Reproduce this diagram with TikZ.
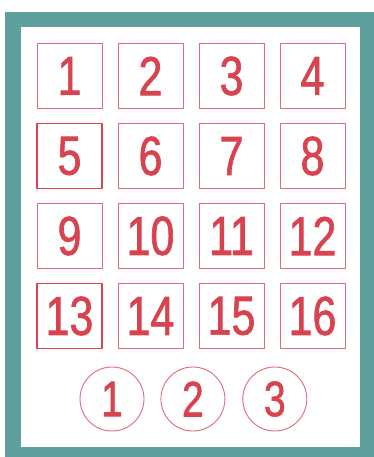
\documentclass[tikz,border=0pt]{standalone}
\usepackage{fontspec}
\setmainfont[FakeStretch=0.78,FakeBold=1.2]{Liberation Sans}
\usepackage{xcolor}
\usetikzlibrary{positioning}
\definecolor{frameteal}{HTML}{5FA09C}
\definecolor{cardred}{HTML}{D8434F}
\definecolor{edgered}{HTML}{E06A78}

\begin{document}
\begin{tikzpicture}[x=1pt, y=-1pt,
                    cell/.style={draw=edgered, line width=0.8pt, minimum size=65pt,
                                 inner sep=0pt, text=cardred,
                                 font=\fontsize{55}{55}\selectfont},
                    cellbold/.style={cell, draw=cardred, line width=1.4pt},
                    ball/.style={circle, draw=edgered, line width=0.9pt, minimum size=64pt,
                                 inner sep=0pt, text=cardred,
                                 font=\fontsize{50}{50}\selectfont}]

  \useasboundingbox (0,0) rectangle (374,457);

  %% 外框
  \fill[frameteal] (5,12) rectangle (374,457);
  \fill[white] (21,27) rectangle (360,447);

  %% 4x4 的號碼格
  \foreach \n in {1,...,16} {
    \pgfmathtruncatemacro{\col}{mod(\n-1,4)}
    \pgfmathtruncatemacro{\row}{div(\n-1,4)}
    \ifnum\n=5 \def\look{cellbold}\else\ifnum\n=13 \def\look{cellbold}\else\def\look{cell}\fi\fi
    \node[\look] (sq\n) at ({69.5+81*\col},{76+80*\row}) {\n};
  }

  %% 下方三個圓圈
  \node[ball] (ball1) at (112,399) {1};
  \node[ball, right=16pt of ball1] (ball2) {2};
  \node[ball, right=17pt of ball2] (ball3) {3};

\end{tikzpicture}
\end{document}
